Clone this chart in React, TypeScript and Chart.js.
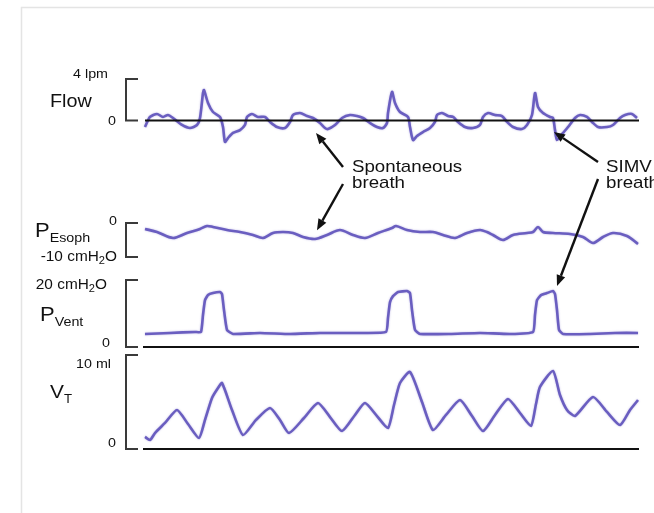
import React, { useEffect, useRef } from "react";
import { Chart, registerables } from "chart.js";

Chart.register(...registerables);

// ---- Data (time in arbitrary sample units) ----
const flowTime = [0,5,12,18,23,28,37,45,52,55,58,59,63,68,75,78,80,83,88,95,100,102,107,113,120,125,132,140,145,148,155,162,168,175,180,183,190,197,205,212,218,225,232,238,242,243,247,250,255,263,265,268,272,278,285,290,292,297,303,308,313,320,328,335,338,343,350,357,362,368,377,382,387,390,393,398,405,408,410,412,418,423,430,435,442,447,453,462,468,475,480,487,492];
const flowLpm = [-0.63,0.34,0.63,0.34,0.53,0.24,-0.43,-0.72,-0.43,0.24,2.65,2.94,1.69,0.82,0.34,-0.63,-2.07,-1.69,-1.2,-0.92,-0.43,0.34,0.63,0.34,0.34,-0.14,-0.63,-0.72,-0.14,0.53,0.72,0.43,0.24,-0.24,-0.72,-0.82,-0.43,0.24,0.53,0.43,0.24,-0.24,-0.63,-0.72,-0.24,0.72,2.75,1.69,0.82,0.34,-0.63,-1.88,-1.49,-1.11,-0.72,-0.14,0.53,0.72,0.43,0.34,-0.14,-0.63,-0.72,-0.43,0.34,0.72,0.53,0.43,-0.14,-0.63,-0.82,-0.43,0.53,2.65,1.3,0.72,0.34,0.24,-0.92,-1.88,-1.2,-0.63,0.24,0.53,0.34,-0.14,-0.63,-0.63,-0.43,0.24,0.53,0.63,0.24];

const esophTime = [0,12,28,42,55,62,68,82,95,108,118,128,138,148,158,170,182,195,208,220,233,247,251,262,275,288,298,310,322,335,342,348,358,368,382,388,393,398,408,425,438,448,458,468,482,493];
const esophCmH2O = [-1.76,-2.65,-4.41,-2.94,-1.76,-0.88,-1.18,-2.06,-2.65,-3.53,-4.41,-2.94,-2.65,-2.94,-4.12,-4.71,-3.53,-2.06,-3.53,-4.41,-2.94,-1.47,-0.88,-2.06,-2.65,-2.65,-3.53,-4.41,-2.94,-2.06,-2.65,-3.53,-5.0,-3.53,-2.94,-2.65,-1.18,-2.65,-2.94,-3.24,-4.12,-5.88,-4.12,-2.94,-3.82,-6.18];

const ventTime = [0,25,50,56,58,60,63,68,75,77,79,82,88,115,145,175,215,241,243,245,248,253,262,265,267,270,275,305,335,365,388,390,392,396,402,408,410,412,414,418,445,470,493];
const ventCmH2O = [3.9,4.2,4.5,4.5,9.6,14.0,15.5,16.1,16.4,15.8,11.0,5.1,3.9,4.2,3.9,4.2,4.2,4.5,8.7,13.4,15.2,16.4,16.7,16.1,11.0,5.1,3.9,3.9,4.2,3.9,4.5,9.6,14.0,15.5,16.1,16.7,15.8,11.0,5.1,3.9,3.9,4.2,4.2];

const vtTime = [0,5,10,20,32,43,54,60,67,73,77,87,98,111,125,135,144,159,173,185,197,210,220,232,243,249,255,265,277,288,301,315,327,338,350,363,375,386,391,395,408,415,422,430,448,462,475,485,493];
const vtMl = [1.28,0.96,1.7,2.77,4.15,2.66,1.17,3.09,5.43,6.49,7.02,4.15,1.49,3.09,4.36,3.09,1.7,3.3,4.89,3.4,1.91,3.62,4.89,3.51,2.23,4.68,7.02,8.19,5.0,2.02,3.62,5.21,3.51,1.91,3.62,5.32,3.83,2.45,4.79,6.6,8.3,5.74,4.15,3.51,5.53,3.94,2.55,4.15,5.21];

// Bracket (axis) values per panel: [top value, bottom value]
const flowRange = [4, 0];
const esophRange = [0, -10];
const ventRange = [20, 0];
const vtRange = [10, 0];

// Tick labels
const flowTickLabels = ["4 lpm", "0"];
const esophTickLabels = ["0", "-10 cmH₂O"];
const ventTickLabels = ["20 cmH₂O", "0"];
const vtTickLabels = ["10 ml", "0"];

const annotationTexts = [["Spontaneous", "breath"], ["SIMV", "breath"]];

const W = 654;
const H = 513;
const TRACE = "#6a5ec0";
const INK = "#111";

// layout anchors (pixels) for each panel's bracket
const panels = [
  { id: "yFlow", top: 79, bottom: 120.5, range: flowRange },
  { id: "yEsoph", top: 223, bottom: 257, range: esophRange },
  { id: "yVent", top: 280, bottom: 347, range: ventRange },
  { id: "yVT", top: 355, bottom: 449, range: vtRange },
];

function scaleFor(p: any) {
  const ppu = (p.bottom - p.top) / (p.range[0] - p.range[1]);
  const max = p.range[0] + p.top / ppu;
  const min = max - H / ppu;
  return { type: "linear", display: false, min, max, bounds: "data", grace: 0 };
}

const pts = (t: number[], v: number[]) => t.map((x, i) => ({ x, y: v[i] }));

const STRETCH = 1.1;
const FONT = '"Liberation Sans", Arial, Helvetica, sans-serif';

type Part = { s: string; size: number; dy?: number };

function partsWidth(ctx: CanvasRenderingContext2D, parts: Part[]) {
  let w = 0;
  for (const p of parts) {
    ctx.font = `${p.size}px ${FONT}`;
    w += ctx.measureText(p.s).width * STRETCH;
  }
  return w;
}

function drawParts(ctx: CanvasRenderingContext2D, parts: Part[], x: number, y: number, align: "left" | "right" = "left") {
  const total = partsWidth(ctx, parts);
  let cx = align === "right" ? x - total : x;
  ctx.save();
  ctx.fillStyle = INK;
  ctx.textBaseline = "alphabetic";
  ctx.textAlign = "left";
  for (const p of parts) {
    ctx.font = `${p.size}px ${FONT}`;
    const w = ctx.measureText(p.s).width * STRETCH;
    ctx.save();
    ctx.translate(cx, y + (p.dy || 0));
    ctx.scale(STRETCH, 1);
    ctx.fillText(p.s, 0, 0);
    ctx.restore();
    cx += w;
  }
  ctx.restore();
}

function unitParts(label: string, size: number): Part[] {
  const i = label.indexOf("₂");
  if (i < 0) return [{ s: label, size }];
  return [
    { s: label.slice(0, i), size },
    { s: "2", size: size * 0.72, dy: 3 },
    { s: label.slice(i + 1), size },
  ];
}

function arrow(ctx: CanvasRenderingContext2D, x0: number, y0: number, x1: number, y1: number) {
  const ang = Math.atan2(y1 - y0, x1 - x0);
  const len = 11;
  const half = 4.5;
  const bx = x1 - Math.cos(ang) * len;
  const by = y1 - Math.sin(ang) * len;
  ctx.save();
  ctx.strokeStyle = "#111";
  ctx.fillStyle = "#111";
  ctx.lineWidth = 2.4;
  ctx.beginPath();
  ctx.moveTo(x0, y0);
  ctx.lineTo(bx, by);
  ctx.stroke();
  ctx.beginPath();
  ctx.moveTo(x1, y1);
  ctx.lineTo(bx + Math.sin(ang) * half, by - Math.cos(ang) * half);
  ctx.lineTo(bx - Math.sin(ang) * half, by + Math.cos(ang) * half);
  ctx.closePath();
  ctx.fill();
  ctx.restore();
}

const decorPlugin = {
  id: "decor",
  beforeDraw(chart: any) {
    const ctx = chart.ctx as CanvasRenderingContext2D;
    ctx.save();
    ctx.fillStyle = "#fff";
    ctx.fillRect(0, 0, W, H);
    ctx.strokeStyle = "#e4e4e4";
    ctx.lineWidth = 1.5;
    ctx.beginPath();
    ctx.moveTo(21.5, H);
    ctx.lineTo(21.5, 7.5);
    ctx.lineTo(W, 7.5);
    ctx.stroke();
    ctx.restore();
  },
  beforeDatasetsDraw(chart: any) {
    const ctx = chart.ctx as CanvasRenderingContext2D;
    ctx.save();
    ctx.shadowColor = "rgba(106,94,192,0.45)";
    ctx.shadowBlur = 2;
  },
  afterDatasetsDraw(chart: any) {
    const ctx = chart.ctx as CanvasRenderingContext2D;
    ctx.restore();
    const xs = chart.scales.x;
    const s = chart.scales;
    const left = xs.getPixelForValue(0);
    const right = xs.getPixelForValue(493);

    // baselines
    ctx.save();
    ctx.strokeStyle = "#111";
    ctx.lineWidth = 2;
    const baseline = (id: string, x0: number) => {
      const y = s[id].getPixelForValue(0);
      ctx.beginPath();
      ctx.moveTo(x0, y);
      ctx.lineTo(right + 1, y);
      ctx.stroke();
    };
    baseline("yFlow", left);
    baseline("yVent", left - 2);
    baseline("yVT", left - 2);
    ctx.restore();

    // brackets
    ctx.save();
    ctx.strokeStyle = "#3a3a3a";
    ctx.lineWidth = 2;
    for (const p of panels) {
      const sc = s[p.id];
      const yt = sc.getPixelForValue(p.range[0]);
      const yb = sc.getPixelForValue(p.range[1]);
      const xv = left - 19;
      const xt = left - 7;
      ctx.beginPath();
      ctx.moveTo(xt, yt);
      ctx.lineTo(xv, yt);
      ctx.lineTo(xv, yb);
      ctx.lineTo(xt, yb);
      ctx.stroke();
    }
    ctx.restore();

    // tick labels
    const yF = s.yFlow, yE = s.yEsoph, yV = s.yVent, yT = s.yVT;
    drawParts(ctx, [{ s: flowTickLabels[0], size: 13 }], 108, yF.getPixelForValue(flowRange[0]) - 1, "right");
    drawParts(ctx, [{ s: flowTickLabels[1], size: 13 }], 116, yF.getPixelForValue(0) + 4, "right");
    drawParts(ctx, [{ s: esophTickLabels[0], size: 13 }], 117, yE.getPixelForValue(0) + 2, "right");
    drawParts(ctx, unitParts(esophTickLabels[1], 14), 117, yE.getPixelForValue(-10) + 4, "right");
    drawParts(ctx, unitParts(ventTickLabels[0], 14), 107, yV.getPixelForValue(20) + 9, "right");
    drawParts(ctx, [{ s: ventTickLabels[1], size: 13 }], 110, yV.getPixelForValue(0), "right");
    drawParts(ctx, [{ s: vtTickLabels[0], size: 13 }], 111, yT.getPixelForValue(10) + 13, "right");
    drawParts(ctx, [{ s: vtTickLabels[1], size: 13 }], 116, yT.getPixelForValue(0) - 2, "right");

    // panel titles
    drawParts(ctx, [{ s: "Flow", size: 18 }], 50, 107);
    drawParts(ctx, [{ s: "P", size: 20 }, { s: "Esoph", size: 13, dy: 5 }], 35, 237);
    drawParts(ctx, [{ s: "P", size: 20 }, { s: "Vent", size: 13, dy: 5 }], 40, 321);
    drawParts(ctx, [{ s: "V", size: 19 }, { s: "T", size: 12, dy: 5 }], 50, 398);

    // annotations
    drawParts(ctx, [{ s: annotationTexts[0][0], size: 17 }], 352, 172);
    drawParts(ctx, [{ s: annotationTexts[0][1], size: 17 }], 352, 188);
    drawParts(ctx, [{ s: annotationTexts[1][0], size: 17 }], 606, 172);
    drawParts(ctx, [{ s: annotationTexts[1][1], size: 17 }], 606, 188);

    arrow(ctx, 343, 167, xs.getPixelForValue(171), yF.getPixelForValue(-1.2));
    arrow(ctx, 343, 184, xs.getPixelForValue(172), yE.getPixelForValue(-2.1));
    arrow(ctx, 598, 162, xs.getPixelForValue(409), yF.getPixelForValue(-1.1));
    arrow(ctx, 598, 179, xs.getPixelForValue(412), yV.getPixelForValue(18.2));
  },
};

export default function App() {
  const ref = useRef<HTMLCanvasElement | null>(null);
  useEffect(() => {
    if (!ref.current) return;
    const mk = (data: any[], yAxisID: string, tension: number) => ({
      data,
      yAxisID,
      borderColor: TRACE,
      borderWidth: 2.6,
      pointRadius: 0,
      tension,
      fill: false,
      clip: false,
    });
    const chart = new Chart(ref.current, {
      type: "line",
      data: {
        datasets: [
          mk(pts(flowTime, flowLpm), "yFlow", 0.25),
          mk(pts(esophTime, esophCmH2O), "yEsoph", 0.3),
          mk(pts(ventTime, ventCmH2O), "yVent", 0.15),
          mk(pts(vtTime, vtMl), "yVT", 0.2),
        ],
      } as any,
      options: {
        animation: false,
        responsive: false,
        maintainAspectRatio: false,
        devicePixelRatio: 1,
        parsing: false as any,
        layout: { padding: { left: 145, right: W - 638, top: 0, bottom: 0 } },
        plugins: { legend: { display: false }, tooltip: { enabled: false } },
        events: [],
        scales: {
          x: { type: "linear", display: false, min: 0, max: 493, bounds: "data" },
          yFlow: scaleFor(panels[0]),
          yEsoph: scaleFor(panels[1]),
          yVent: scaleFor(panels[2]),
          yVT: scaleFor(panels[3]),
        } as any,
      },
      plugins: [decorPlugin],
    });
    return () => chart.destroy();
  }, []);
  return (
    <div style={{ position: "absolute", left: 0, top: 0, width: W, height: H, background: "#fff" }}>
      <canvas ref={ref} width={W} height={H} style={{ width: W, height: H, display: "block" }} />
    </div>
  );
}
